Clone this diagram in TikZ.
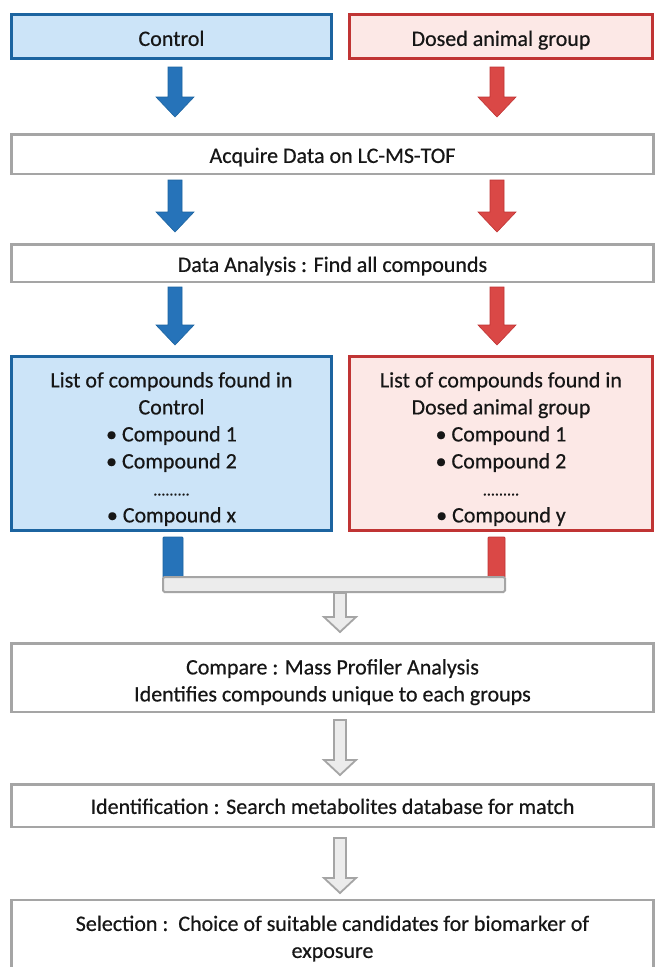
\documentclass[tikz,border=0pt]{standalone}
\usepackage{fontspec}
\setmainfont{Carlito}[FakeBold=0.5]
\definecolor{blueb}{RGB}{28,100,160}
\definecolor{bluef}{RGB}{204,228,248}
\definecolor{bluea}{RGB}{38,115,185}
\definecolor{redb}{RGB}{192,52,52}
\definecolor{redf}{RGB}{252,232,230}
\definecolor{reda}{RGB}{218,72,70}
\definecolor{grayb}{RGB}{165,165,165}
\definecolor{grayf}{RGB}{236,236,236}
\definecolor{txt}{RGB}{22,22,22}
% #1 = twice the downward shift of the text inside its node
\newcommand{\tx}[2][8pt]{\raisebox{0pt}[\dimexpr\height+#1\relax]{\begin{tabular}{@{}c@{}}#2\end{tabular}}}
\newcommand{\dotsline}{{\fontsize{16}{27}\selectfont .........}}
\newcommand{\colarrow}[4]{%
  \filldraw[#1] ({#2-7},#3) -- ({#2+7},#3) -- ({#2+7},{#4-20}) -- ({#2+19},{#4-20})
    -- (#2,#4) -- ({#2-19},{#4-20}) -- ({#2-7},{#4-20}) -- cycle;}
\newcommand{\grayarrow}[3]{%
  \filldraw[garrow] ({#1-6},#2) -- ({#1+6},#2) -- ({#1+6},{#3-15}) -- ({#1+16},{#3-15})
    -- (#1,#3) -- ({#1-16},{#3-15}) -- ({#1-6},{#3-15}) -- cycle;}
\begin{document}
\begin{tikzpicture}[x=1pt,y=-1pt,
  box/.style={draw=grayb, line width=2.5pt, fill=white, inner sep=0pt, align=center,
    font=\fontsize{22}{27}\selectfont, text=txt},
  ctrl/.style={box, draw=blueb, fill=bluef, line width=3pt},
  dose/.style={box, draw=redb, fill=redf, line width=3pt},
  barrow/.style={fill=bluea, draw=blueb, line width=0.6pt},
  rarrow/.style={fill=reda, draw=redb, line width=0.6pt},
  garrow/.style={fill=grayf, draw=grayb, line width=1.8pt, line join=miter},
]
\useasboundingbox[fill=white] (0,0) rectangle (657,967);

\node[ctrl, minimum width=320pt, minimum height=44pt] (control) at (171.5,36.5) {\tx{Control}};
\node[dose, minimum width=303pt, minimum height=44pt] (dosed) at (501,36.5) {\tx{Dosed animal group}};

\node[box, minimum width=642pt, minimum height=39.5pt] (acq) at (332.5,154) {\tx[7pt]{Acquire Data on LC-MS-TOF}};
\node[box, minimum width=642pt, minimum height=37.5pt] (ana) at (332.5,263) {\tx[7pt]{Data Analysis : Find all compounds}};

\node[ctrl, minimum width=320pt, minimum height=174pt] (listc) at (171.5,443.5)
  {\tx[12pt]{List of compounds found in\\Control\\\textbullet\ Compound\hspace{5pt}1\\\textbullet\ Compound\hspace{5pt}2\\\dotsline\\\textbullet\ Compound\hspace{5pt}x}};
\node[dose, minimum width=303pt, minimum height=174pt] (listd) at (501,443.5)
  {\tx[12pt]{List of compounds found in\\Dosed animal group\\\textbullet\ Compound\hspace{5pt}1\\\textbullet\ Compound\hspace{5pt}2\\\dotsline\\\textbullet\ Compound\hspace{5pt}y}};

\node[box, minimum width=642pt, minimum height=68.5pt] (cmp) at (332.5,677.5)
  {\tx[10pt]{Compare : Mass Profiler Analysis\\Identifies compounds unique to each groups}};
\node[box, minimum width=642pt, minimum height=42.5pt] (ident) at (332.5,805.5)
  {\tx[6pt]{Identification : Search metabolites database for match}};
\node[box, minimum width=642pt, minimum height=76pt] (sel) at (332.5,938)
  {\tx[2pt]{Selection :\ \ Choice of suitable candidates for biomarker of\\exposure}};

% coloured block arrows
\colarrow{barrow}{175}{67}{117}
\colarrow{rarrow}{497}{67}{117}
\colarrow{barrow}{175}{180}{232}
\colarrow{rarrow}{497}{180}{232}
\colarrow{barrow}{175}{287}{345}
\colarrow{rarrow}{497}{287}{345}

% stubs and merge bar
\filldraw[fill=bluea, draw=blueb, line width=0.8pt, rounded corners=1pt] (163,537) rectangle (183,578);
\filldraw[fill=reda, draw=redb, line width=0.8pt, rounded corners=1pt] (488,537) rectangle (505,578);
\filldraw[fill=grayf, draw=grayb, line width=2pt, rounded corners=1.5pt] (163,577) rectangle (505,592);

% gray hollow arrows
\grayarrow{340}{593}{632}
\grayarrow{340}{720}{775}
\grayarrow{340}{838}{893}
\end{tikzpicture}
\end{document}
